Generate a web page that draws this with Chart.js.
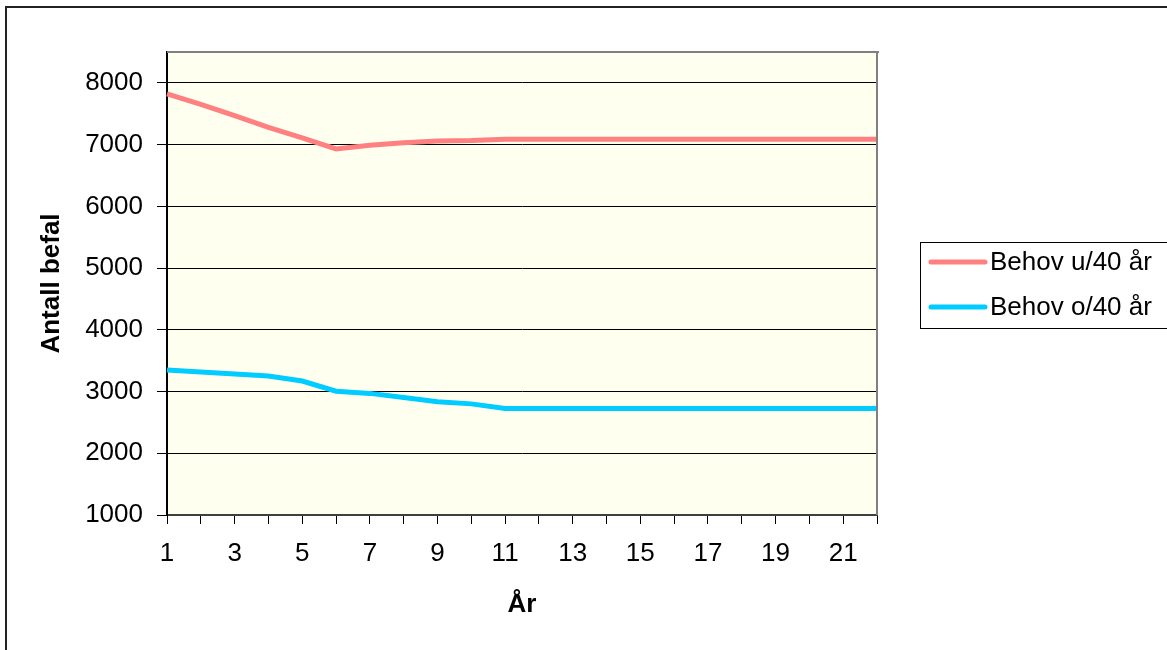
<!DOCTYPE html>
<html>
<head>
<meta charset="utf-8">
<script src="https://cdn.jsdelivr.net/npm/chart.js@4/dist/chart.umd.min.js"></script>
<style>
  body { margin: 0; background: #fff; }
  #wrap { width: 1167px; height: 650px; }
</style>
</head>
<body>
<div id="wrap"><canvas id="befalChart" width="1167" height="650"></canvas></div>
<script>
// år 1..22
var years = [];
for (var i = 1; i <= 22; i++) years.push(String(i));

var behovUnder40 = [7820, 7650, 7470, 7280, 7110, 6930, 6990, 7030, 7060, 7065, 7085,
                    7085, 7085, 7085, 7085, 7085, 7085, 7085, 7085, 7085, 7085, 7085];
var behovOver40 = [3350, 3315, 3285, 3250, 3170, 3005, 2970, 2905, 2835, 2800, 2725,
                   2725, 2725, 2725, 2725, 2725, 2725, 2725, 2725, 2725, 2725, 2725];

var yTicks = [1000, 2000, 3000, 4000, 5000, 6000, 7000, 8000];

var FONT = '"Liberation Sans", Arial, sans-serif';

// bakgrunn i plottområdet, ramme og egen legende
var decor = {
    id: 'decor',
    beforeDraw: function(chart) {
        var c = chart.ctx, a = chart.chartArea;
        c.save();
        c.fillStyle = '#fffff0';
        c.fillRect(a.left, a.top, a.right - a.left, a.bottom - a.top);
        c.restore();
    },
    afterDraw: function(chart) {
        var c = chart.ctx, a = chart.chartArea;
        c.save();
        // grå kant øverst og til høyre
        c.fillStyle = '#808080';
        c.fillRect(a.left, a.top - 1, a.right - a.left + 2, 2);
        c.fillRect(a.right - 1, a.top - 1, 2, a.bottom - a.top + 1);
        // ytre ramme
        c.fillStyle = '#222';
        c.fillRect(5, 6, 2, 650);
        c.fillRect(5, 6, 1170, 2);
        // legende
        c.fillStyle = '#fff';
        c.fillRect(920, 242, 260, 86);
        c.strokeStyle = '#000';
        c.lineWidth = 1;
        c.strokeRect(920.5, 242.5, 260, 86);
        c.font = '26px ' + FONT;
        c.textBaseline = 'middle';
        chart.data.datasets.forEach(function(ds, k) {
            var y = 262 + k * 45;
            c.strokeStyle = ds.borderColor;
            c.lineWidth = 5;
            c.lineCap = 'round';
            c.beginPath();
            c.moveTo(931, y);
            c.lineTo(985, y);
            c.stroke();
            c.fillStyle = '#000';
            c.fillText(ds.label, 990, y + 1);
        });
        c.restore();
    }
};

new Chart(document.getElementById('befalChart').getContext('2d'), {
    type: 'line',
    data: {
        labels: years,
        datasets: [{
            label: 'Behov u/40 år',
            data: behovUnder40,
            borderColor: '#ff8080',
            borderWidth: 5,
            pointRadius: 0,
            tension: 0
        }, {
            label: 'Behov o/40 år',
            data: behovOver40,
            borderColor: '#00ccff',
            borderWidth: 5,
            pointRadius: 0,
            tension: 0
        }]
    },
    options: {
        responsive: false,
        devicePixelRatio: 1,
        animation: false,
        layout: { padding: { top: 52, right: 290, left: 0, bottom: 0 } },
        plugins: {
            legend: { display: false },
            tooltip: { enabled: false }
        },
        scales: {
            x: {
                offset: false,
                afterFit: function(s) { s.height = 135; },
                grid: { drawOnChartArea: false, color: '#000', tickLength: 9, tickWidth: 1 },
                border: { color: '#404040', width: 2 },
                ticks: {
                    autoSkip: false,
                    maxRotation: 0,
                    padding: 14,
                    color: '#000',
                    font: { family: FONT, size: 26 },
                    callback: function(v, i) { return i % 2 === 0 ? years[i] : ''; }
                },
                title: {
                    display: true,
                    text: 'År',
                    color: '#000',
                    font: { family: FONT, size: 26, weight: 'bold' },
                    padding: { top: 0, bottom: 30 }
                }
            },
            y: {
                min: 1000,
                max: 8500,
                afterFit: function(s) { s.width = 167; },
                afterBuildTicks: function(s) {
                    s.ticks = yTicks.map(function(v) { return { value: v }; });
                },
                grid: { color: '#000', lineWidth: 1, tickLength: 10 },
                border: { color: '#000', width: 2 },
                ticks: {
                    padding: 14,
                    color: '#000',
                    font: { family: FONT, size: 26 },
                    callback: function(v) { return String(v); }
                },
                title: {
                    display: true,
                    text: 'Antall befal',
                    color: '#000',
                    font: { family: FONT, size: 26, weight: 'bold' },
                    padding: { top: 36, bottom: 0 }
                }
            }
        }
    },
    plugins: [decor]
});
</script>
</body>
</html>
